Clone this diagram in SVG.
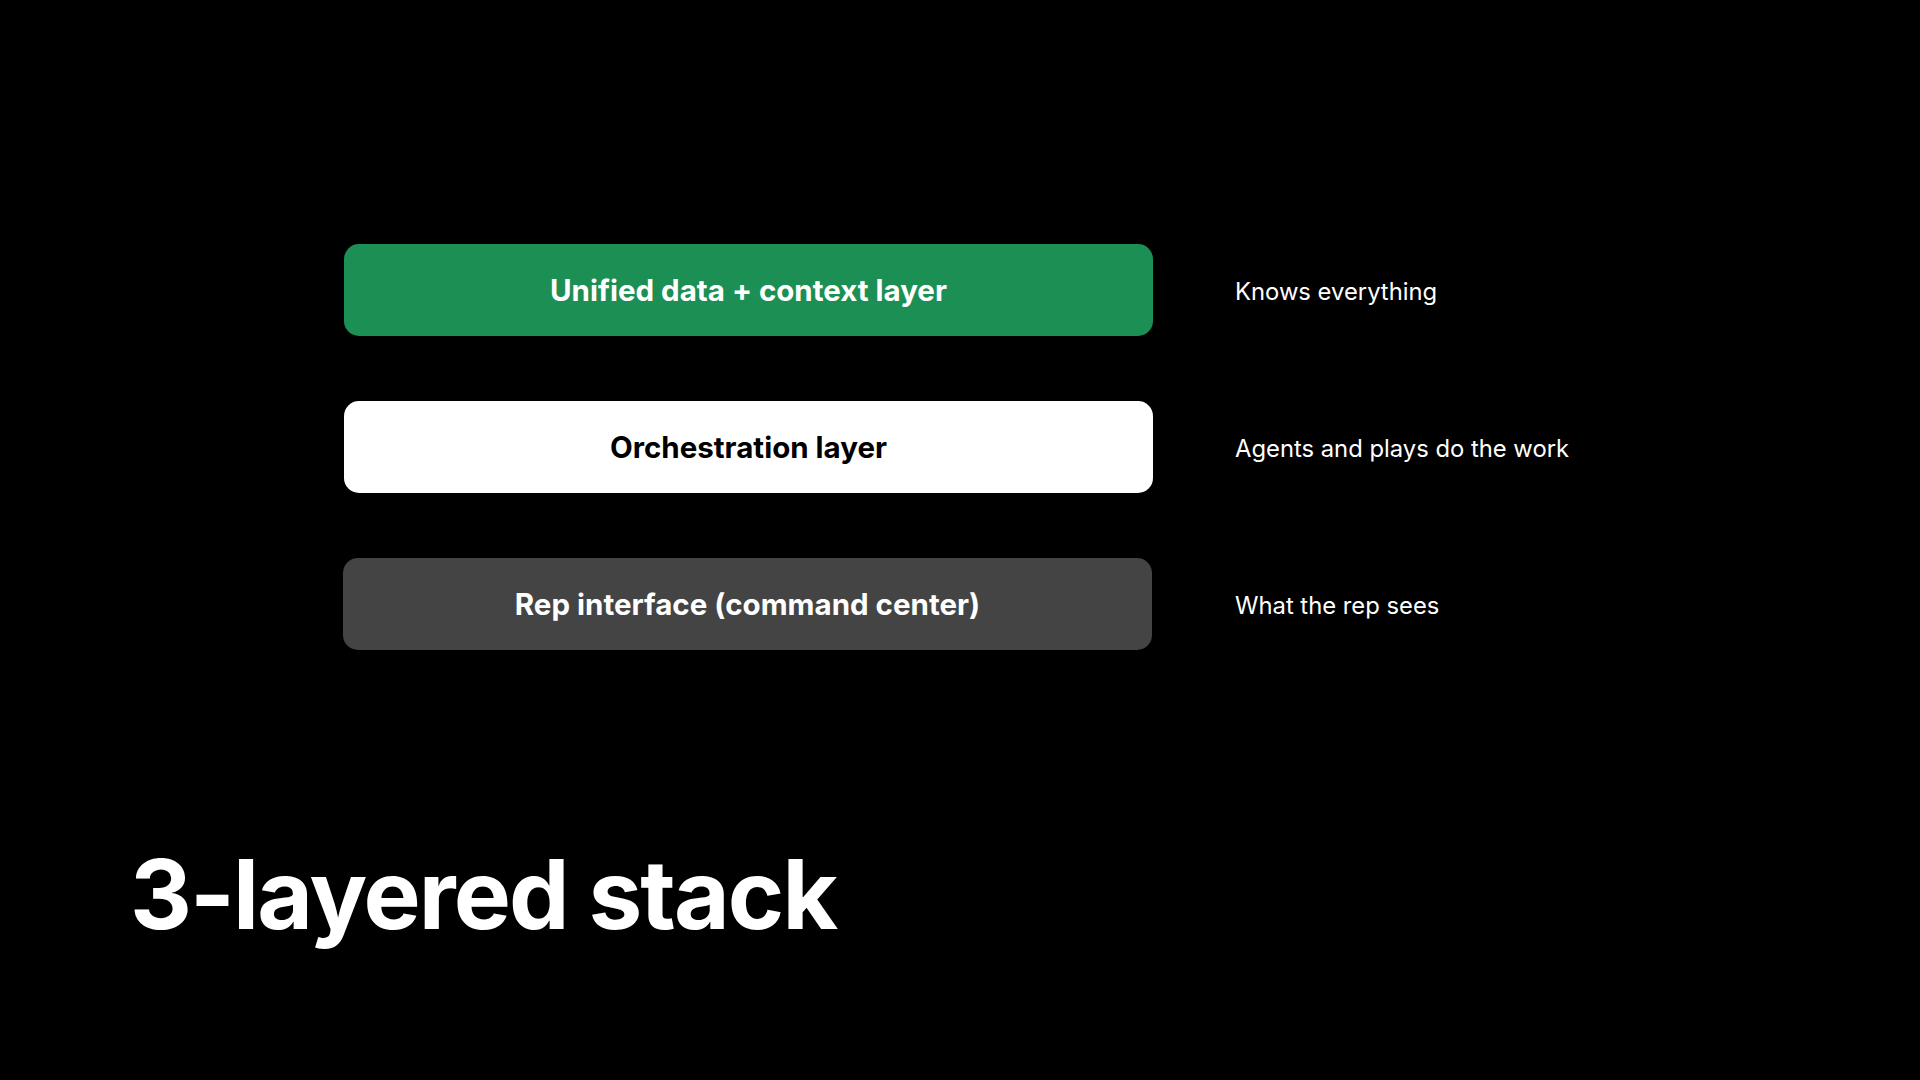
<svg xmlns="http://www.w3.org/2000/svg" width="1920" height="1080" viewBox="0 0 1920 1080">
<style>
.lbl{font-family:Inter,"Noto Sans","Liberation Sans",sans-serif;font-weight:700;font-size:29.5px;text-anchor:middle}
.note{font-family:Inter,"Noto Sans","Liberation Sans",sans-serif;font-weight:400;font-size:23.8px;fill:#ffffff}
.title{font-family:Inter,"Noto Sans","Liberation Sans",sans-serif;font-weight:700;font-size:96px;fill:#ffffff;letter-spacing:-1.9px}
</style>
<rect width="1920" height="1080" fill="#000000"/>
<g id="connectors"></g>
<g id="layer-data">
<rect x="344" y="244" width="809" height="92" rx="15" fill="#1C8F54"/>
<text class="lbl" x="748.5" y="301" fill="#ffffff">Unified data + context layer</text>
</g>
<g id="layer-orchestration">
<rect x="344" y="401" width="809" height="92" rx="15" fill="#ffffff"/>
<text class="lbl" x="748.5" y="458" fill="#000000">Orchestration layer</text>
</g>
<g id="layer-interface">
<rect x="343" y="558" width="809" height="92" rx="15" fill="#444444"/>
<text class="lbl" x="747.5" y="615" fill="#ffffff">Rep interface (command center)</text>
</g>
<g id="notes">
<text class="note" x="1235" y="300">Knows everything</text>
<text class="note" x="1235" y="457">Agents and plays do the work</text>
<text class="note" x="1235" y="614">What the rep sees</text>
</g>
<g id="title">
<text class="title" x="130" y="929">3-layered stack</text>
</g>
</svg>
